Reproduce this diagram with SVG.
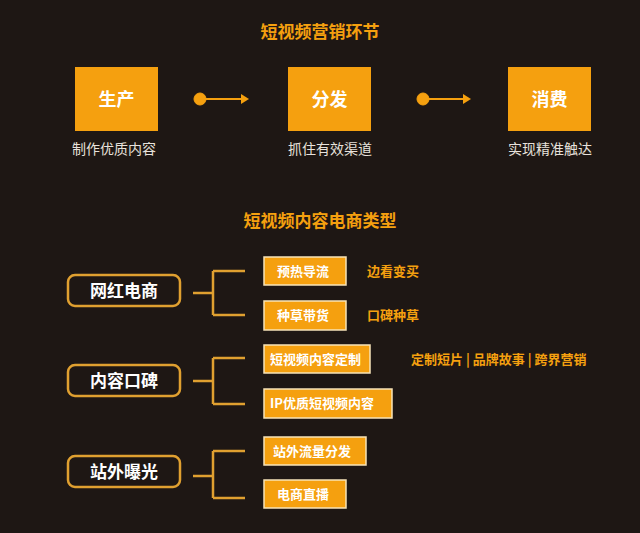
<svg xmlns="http://www.w3.org/2000/svg" width="640" height="533" viewBox="0 0 640 533">
<style>
text{font-family:"Noto Sans CJK SC","Noto Sans",sans-serif;font-weight:bold}
.big{fill:#f5a00f;stroke:none}
.t1{fill:#fff;font-size:18px;text-anchor:middle}
.sub{fill:#e8e2dc;font-size:14px;font-weight:normal;text-anchor:middle}
.title{fill:#f5a00f;font-size:17px;text-anchor:middle}
.lb{fill:#1e1714;stroke:#e0a030;stroke-width:2.5}
.lt{fill:#fff;font-size:17px;text-anchor:middle}
.rb{fill:#f5a00f;stroke:#f7e4b8;stroke-width:1.5}
.rt{fill:#fff;font-size:13px}
.note{fill:#f5a00f;font-size:13px}
.ln{stroke:#e0a030;stroke-width:2.5;fill:none}
</style>
<rect width="640" height="533" fill="#1e1714"/>
<text class="title" x="320" y="38">短视频营销环节</text>
<g id="n1"><rect class="big" x="75" y="67" width="83" height="64"/><text class="t1" x="116.5" y="106">生产</text><text class="sub" x="114" y="154">制作优质内容</text></g>
<g id="n2"><rect class="big" x="288" y="67" width="83" height="64"/><text class="t1" x="329.5" y="106">分发</text><text class="sub" x="330" y="154">抓住有效渠道</text></g>
<g id="n3"><rect class="big" x="508" y="67" width="83" height="64"/><text class="t1" x="549.5" y="106">消费</text><text class="sub" x="550" y="154">实现精准触达</text></g>
<g id="arrows" fill="#f5a00f" stroke="#f5a00f">
<circle cx="200" cy="99" r="6"/><line x1="200" y1="99" x2="244" y2="99" stroke-width="2"/><path d="M241 94 L249 99 L241 104Z" stroke="none"/>
<circle cx="423" cy="99" r="6"/><line x1="423" y1="99" x2="466" y2="99" stroke-width="2"/><path d="M463 94 L471 99 L463 104Z" stroke="none"/>
</g>
<text class="title" x="320" y="227">短视频内容电商类型</text>
<g id="connectors">
<path class="ln" d="M193 293 H213 M213 271 V315 M213 271 H245 M213 315 H245"/>
<path class="ln" d="M193 381 H213 M213 358 V404 M213 358 H245 M213 404 H245"/>
<path class="ln" d="M193 476 H213 M213 451 V498 M213 451 H245 M213 498 H245"/>
</g>
<g id="l1"><rect class="lb" x="68" y="275" width="112" height="31" rx="7"/><text class="lt" x="124" y="297">网红电商</text></g>
<g id="l2"><rect class="lb" x="68" y="365" width="112" height="31" rx="7"/><text class="lt" x="124" y="387">内容口碑</text></g>
<g id="l3"><rect class="lb" x="68" y="456" width="112" height="31" rx="7"/><text class="lt" x="124" y="478">站外曝光</text></g>
<g id="r1"><rect class="rb" x="264" y="257" width="82" height="28"/><text class="rt" x="277" y="276">预热导流</text><text class="note" x="367" y="276">边看变买</text></g>
<g id="r2"><rect class="rb" x="264" y="301" width="82" height="29"/><text class="rt" x="277" y="320">种草带货</text><text class="note" x="367" y="320">口碑种草</text></g>
<g id="r3"><rect class="rb" x="264" y="345" width="106" height="28"/><text class="rt" x="270" y="364">短视频内容定制</text><text class="note" x="411" y="364">定制短片 | 品牌故事 | 跨界营销</text></g>
<g id="r4"><rect class="rb" x="264" y="389" width="128" height="29"/><text class="rt" x="270" y="408">IP优质短视频内容</text></g>
<g id="r5"><rect class="rb" x="264" y="437" width="102" height="28"/><text class="rt" x="273" y="456">站外流量分发</text></g>
<g id="r6"><rect class="rb" x="264" y="480" width="82" height="28"/><text class="rt" x="277" y="499">电商直播</text></g>
</svg>
